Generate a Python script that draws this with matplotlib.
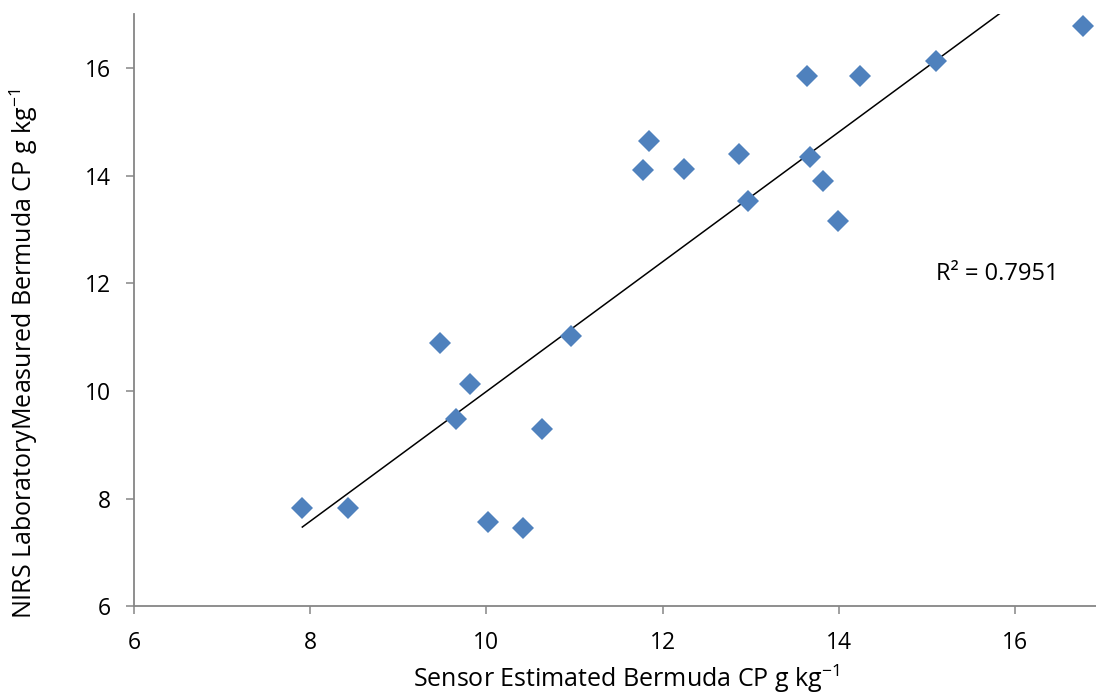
import numpy as np
import matplotlib
matplotlib.use("Agg")
from matplotlib import pyplot as plt

plt.rcParams['font.family'] = ['Open Sans', 'DejaVu Sans']
plt.rcParams['mathtext.fontset'] = 'custom'
plt.rcParams['mathtext.rm'] = 'Open Sans'
plt.rcParams['mathtext.it'] = 'Open Sans'

# sensor estimate vs NIRS lab value, g kg-1
sensor_cp = [7.91, 8.43, 9.47, 9.81, 9.65, 10.02, 10.41, 10.63, 10.96,
             11.78, 11.85, 12.24, 12.87, 12.97, 13.64, 13.67, 13.82,
             13.99, 14.24, 15.10, 16.77]
nirs_cp = [7.83, 7.83, 10.89, 10.13, 9.48, 7.57, 7.46, 9.29, 11.02,
           14.10, 14.64, 14.13, 14.40, 13.53, 15.84, 14.34, 13.90,
           13.16, 15.84, 16.12, 16.77]
r2_label = "R² = 0.7951"
x_ticks = [6, 8, 10, 12, 14, 16]
y_ticks = [6, 8, 10, 12, 14, 16]

x = np.array(sensor_cp)
y = np.array(nirs_cp)
slope, intercept = np.polyfit(x, y, 1)
xfit = np.array([x.min(), x.max()])
yfit = intercept + slope * xfit

fig = plt.figure(figsize=(10.96, 6.98), dpi=100)
ax = fig.add_axes([0.1223, 0.1311, 0.8842, 0.8489])

ax.plot(x, y, linestyle='none', marker='D', markersize=10.8,
        color='#4F81BD', markeredgewidth=0, zorder=3)
ax.plot(xfit, yfit, color='black', linewidth=1.1, zorder=2)

ax.set_xlim(6, 17)
ax.set_ylim(6, 17)
ax.set_xticks(x_ticks)
ax.set_yticks(y_ticks)

for side in ['top', 'right']:
    ax.spines[side].set_visible(False)
for side in ['left', 'bottom']:
    ax.spines[side].set_color('#868686')
    ax.spines[side].set_linewidth(1.3)

ax.tick_params(axis='both', direction='out', length=5.5, width=1.1,
               color='#868686', labelsize=16.5, labelcolor='black')
ax.tick_params(axis='y', pad=11)
ax.tick_params(axis='x', pad=12)

ax.text(15.10, 12.18, r2_label, fontsize=17, ha='left', va='center')

ax.set_xlabel('Sensor Estimated Bermuda CP g kg$^{-1}$', fontsize=18)
ax.set_ylabel('NIRS LaboratoryMeasured Bermuda CP g kg$^{-1}$', fontsize=18)
ax.xaxis.set_label_coords(0.5075, -0.094)
ax.yaxis.set_label_coords(-0.097, 0.426)

fig.savefig('out.png', dpi=100)
